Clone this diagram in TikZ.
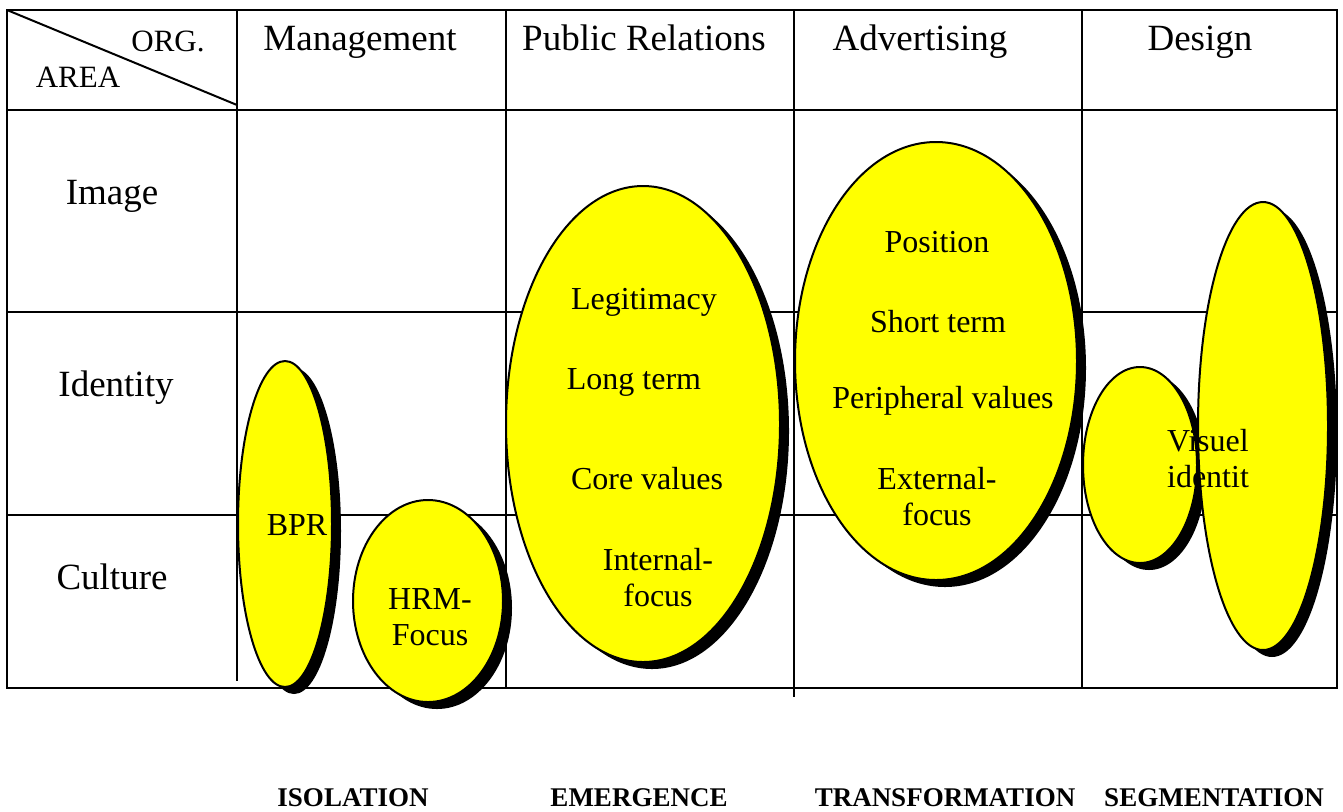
\documentclass[tikz,border=0pt]{standalone}
\usepackage{fontspec}
\setmainfont{Liberation Serif}
\usetikzlibrary{calc}

\begin{document}
\begin{tikzpicture}[x=0.5pt,y=-0.5pt,
  grid/.style={black,line width=1pt},
  blob/.style={fill={rgb,255:red,255;green,255;blue,0},draw=black,line width=1pt},
  shad/.style={fill=black},
  head/.style={font=\fontsize{18.5}{22}\selectfont,anchor=base},
  corner/.style={font=\fontsize{15.5}{18}\selectfont},
  inner/.style={font=\fontsize{16}{18}\selectfont,align=center},
  phase/.style={font=\fontsize{13.5}{16}\selectfont\bfseries}]

\useasboundingbox (0,0) rectangle (1343,811);

\coordinate (TL) at (7,10);
\coordinate (BR) at (1337,688);

% table
\draw[grid] (TL) rectangle (BR);
\draw[grid] (7,110) -- (1337,110);
\draw[grid] (7,312) -- (1337,312);
\draw[grid] (7,515) -- (1337,515);
\draw[grid] (237,10) -- (237,681);
\draw[grid] (506,10) -- (506,687);
\draw[grid] (794,10) -- (794,697);
\draw[grid] (1082,10) -- (1082,688);
\draw[grid] (TL) -- (237,105);

\node[corner] (org) at (168,41) {ORG.};
\node[corner] (area) at (78,77) {AREA};
\node[head] (man) at (360,50) {Management};
\node[head] (pr) at (644,50) {Public Relations};
\node[head] (adv) at (920,50) {Advertising};
\node[head] (des) at (1200,50) {Design};

\node[head] (img) at (112,204) {Image};
\node[head] (ide) at (116,396) {Identity};
\node[head] (cul) at (112,589) {Culture};

% ellipses
\coordinate (bpr) at (285,524);
\coordinate (hrm) at (428,601);
\coordinate (pub) at (643,424);
\coordinate (ads) at (936,361);
\coordinate (vs) at (1140,465);
\coordinate (vb) at (1263,426);

\fill[shad] ($(bpr)+(9,7)$) ellipse (47 and 163);
\draw[blob] (bpr) ellipse (47 and 163);
\fill[shad] ($(hrm)+(9,7)$) ellipse (75 and 101);
\draw[blob] (hrm) ellipse (75 and 101);
\fill[shad] ($(pub)+(9,7)$) ellipse (137 and 238);
\draw[blob] (pub) ellipse (137 and 238);
\fill[shad] ($(ads)+(9,7)$) ellipse (141 and 219);
\draw[blob] (ads) ellipse (141 and 219);
\fill[shad] ($(vs)+(9,7)$) ellipse (57 and 98);
\draw[blob] (vs) ellipse (57 and 98);
\fill[shad] ($(vb)+(9,7)$) ellipse (65 and 224);
\draw[blob] (vb) ellipse (65 and 224);

\node[inner] (t1) at (297,525) {BPR};
\node[inner] (t2) at (430,617) {HRM-\\Focus};
\node[inner] (t3) at (644,302) {Legitimacy};
\node[inner] (t4) at (634,382) {Long term};
\node[inner] (t5) at (647,479) {Core values};
\node[inner] (t6) at (658,578) {Internal-\\focus};
\node[inner] (t7) at (937,242) {Position};
\node[inner] (t8) at (938,322) {Short term};
\node[inner] (t9) at (943,401) {Peripheral values};
\node[inner] (t10) at (937,497) {External-\\focus};
\node[inner,align=left] (t11) at (1208,459) {Visuel\\identit};

% phases
\node[phase] (p1) at (353,798) {ISOLATION};
\node[phase] (p2) at (639,798) {EMERGENCE};
\node[phase] (p3) at (945,798) {TRANSFORMATION};
\node[phase] (p4) at (1214,798) {SEGMENTATION};

\end{tikzpicture}
\end{document}
